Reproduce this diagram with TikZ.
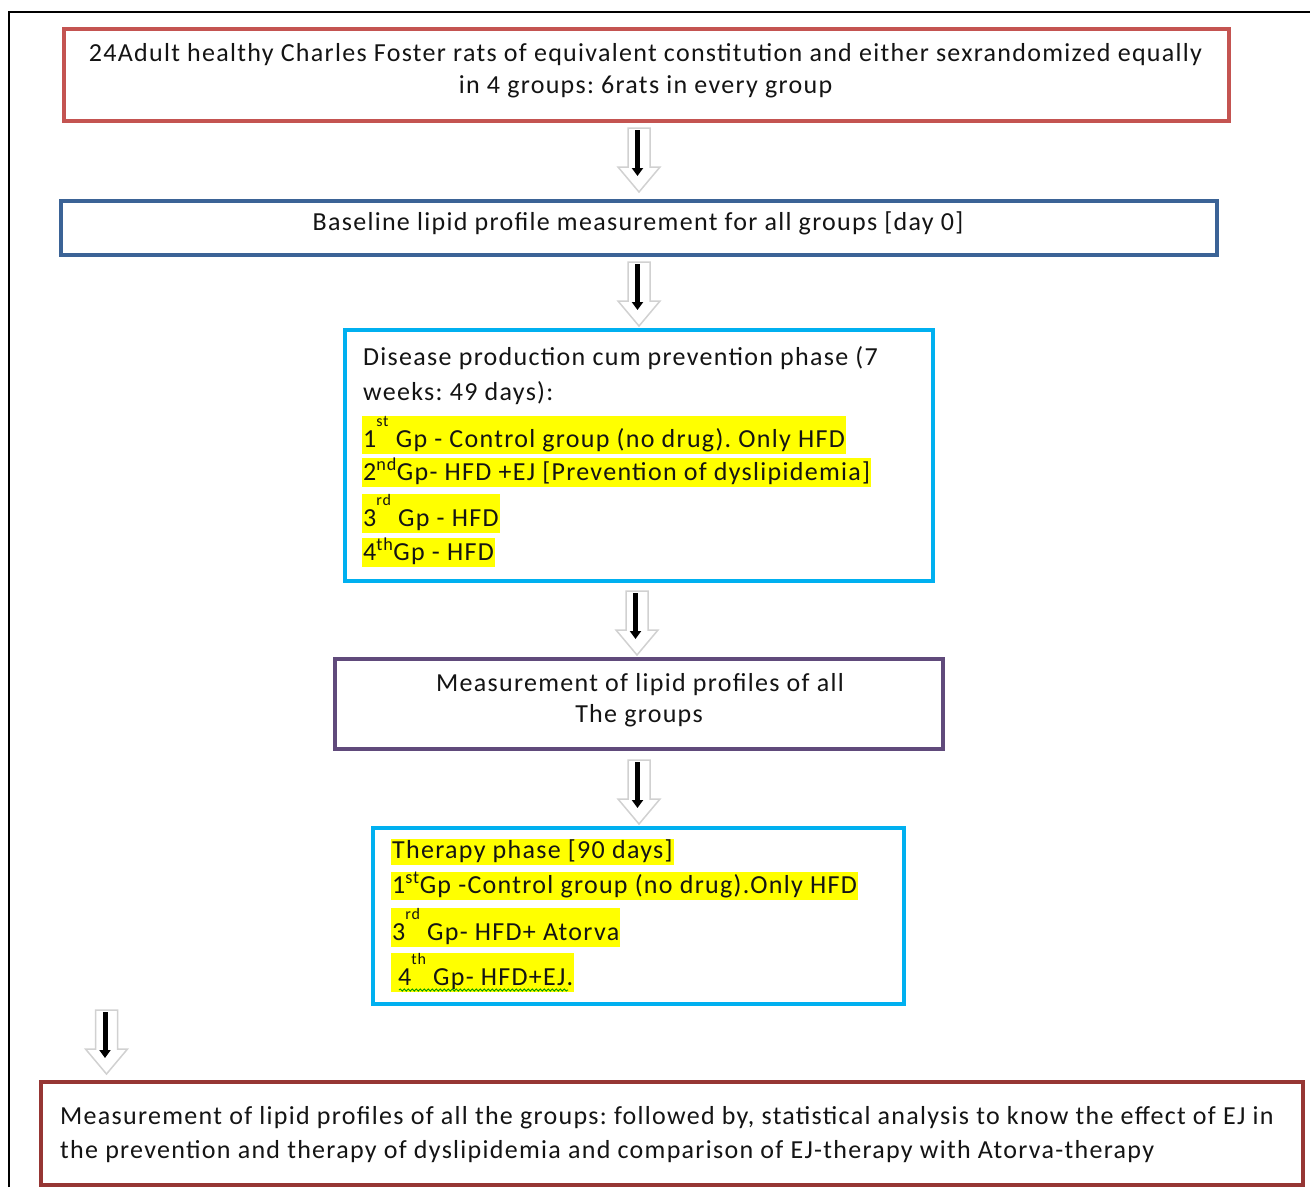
\documentclass[tikz,border=0pt]{standalone}
\usepackage{fontspec}
\setmainfont{Carlito}[LetterSpace=5]
\usetikzlibrary{arrows.meta,decorations.pathmorphing}
\definecolor{cRedA}{RGB}{196,84,81}
\definecolor{cBlue}{RGB}{59,99,150}
\definecolor{cCyan}{RGB}{0,176,240}
\definecolor{cPurple}{RGB}{96,74,123}
\definecolor{cDark}{RGB}{150,54,52}
\definecolor{cHl}{RGB}{255,255,0}
\definecolor{cTxt}{RGB}{20,20,20}
\newcommand\hstrut[1]{\rule[-7pt]{0pt}{#1pt}}
\newcommand\highsup[1]{\raisebox{20.5pt}{\fontsize{16}{16}\selectfont #1}}
\frenchspacing
\begin{document}
\frenchspacing
\begin{tikzpicture}[x=1pt,y=-1pt,
  boxnode/.style={draw, line width=4pt, inner sep=0pt, fill=none},
  txt/.style={inner sep=0pt, text=cTxt, font=\fontsize{26}{30}\selectfont},
  ltxt/.style={txt, anchor=base west},
  ctxt/.style={txt, anchor=base},
  hl/.style={ltxt, fill=cHl, inner xsep=1pt, inner ysep=0pt},
  dnarrow/.pic={
    \draw[black!18, line width=1.5pt, fill=white, line join=miter]
      (-11,0) -- (11,0) -- (11,39) -- (21,39) -- (0,64) -- (-21,39) -- (-11,39) -- cycle;
    \draw[black, line width=5pt, -{Triangle[width=11pt,length=8pt]}] (-1.5,2) -- (-1.5,48);
  }]
\useasboundingbox (0,0) rectangle (1310,1187);
\fill[white] (0,0) rectangle (1310,1187);
% outer frame
\coordinate (fA) at (9,1187);
\coordinate (fB) at (9,12);
\coordinate (fC) at (1310,12);
\draw[line width=2pt, black] (fA) -- (fB) -- (fC);

% boxes
\node[boxnode, draw=cRedA, minimum width=1165pt, minimum height=91.5pt] (b1) at (646.5,74.75) {};
\node[boxnode, draw=cBlue, minimum width=1156pt, minimum height=54pt] (b2) at (639,228) {};
\node[boxnode, draw=cCyan, minimum width=588pt, minimum height=251pt] (b3) at (639,455.5) {};
\node[boxnode, draw=cPurple, minimum width=608pt, minimum height=90pt] (b4) at (639,704) {};
\node[boxnode, draw=cCyan, minimum width=531pt, minimum height=176pt] (b5) at (638.5,916) {};
\node[boxnode, draw=cDark, minimum width=1262pt, minimum height=103pt] (b6) at (672,1133.5) {};

% box 1 text
\node[ctxt] (t1a) at (645.5,61) {24Adult healthy Charles Foster rats of equivalent constitution and either sexrandomized equally};
\node[ctxt] (t1b) at (645.5,93) {in 4 groups: 6rats in every group};

% box 2 text
\node[ctxt] (t2) at (638,230) {Baseline lipid profile measurement for all groups [day 0]};

% box 3 text
\node[ltxt] (t3a) at (363,365) {Disease production cum prevention phase (7};
\node[ltxt] (t3b) at (363,400) {weeks: 49 days):};
\node[hl] (t3c) at (362,447) {\hstrut{35}1\highsup{st} Gp - Control group (no drug). Only HFD};
\node[hl] (t3d) at (362,480) {\hstrut{23}2\textsuperscript{nd}Gp- HFD +EJ [Prevention of dyslipidemia]};
\node[hl] (t3e) at (362,526) {\hstrut{35}3\highsup{rd} Gp - HFD};
\node[hl] (t3f) at (362,560) {\hstrut{23}4\textsuperscript{th}Gp - HFD};

% box 4 text
\node[ctxt] (t4a) at (640,691) {Measurement of lipid profiles of all};
\node[ctxt] (t4b) at (639,722) {The groups};

% box 5 text
\node[hl] (t5a) at (391,858) {\hstrut{22}Therapy phase [90 days]};
\node[hl] (t5b) at (391,893) {\hstrut{23}1\textsuperscript{st}Gp -Control group (no drug).Only HFD};
\node[hl] (t5c) at (391,940) {\hstrut{36}3\highsup{rd} Gp- HFD+ Atorva};
\node[hl] (t5d) at (391,985) {\hstrut{34}\hspace{6pt}4\highsup{th} Gp- HFD+EJ.};
\coordinate (sqA) at (399,990);
\coordinate (sqB) at (568,990);
\draw[green!60!black, line width=0.9pt, decorate, decoration={snake, amplitude=1.1pt, segment length=4pt}] (sqA) -- (sqB);

% box 6 text
\node[ltxt] (t6a) at (60,1124) {Measurement of lipid profiles of all the groups: followed by, statistical analysis to know the effect of EJ in};
\node[ltxt] (t6b) at (60,1158) {the prevention and therapy of dyslipidemia and comparison of EJ-therapy with Atorva-therapy};

% arrows
\coordinate (a1) at (639,128);
\coordinate (a2) at (639,262);
\coordinate (a3) at (637,591);
\coordinate (a4) at (639,760);
\coordinate (a5) at (106.5,1010);
\pic at (a1) {dnarrow};
\pic at (a2) {dnarrow};
\pic at (a3) {dnarrow};
\pic at (a4) {dnarrow};
\pic at (a5) {dnarrow};
\end{tikzpicture}
\end{document}
